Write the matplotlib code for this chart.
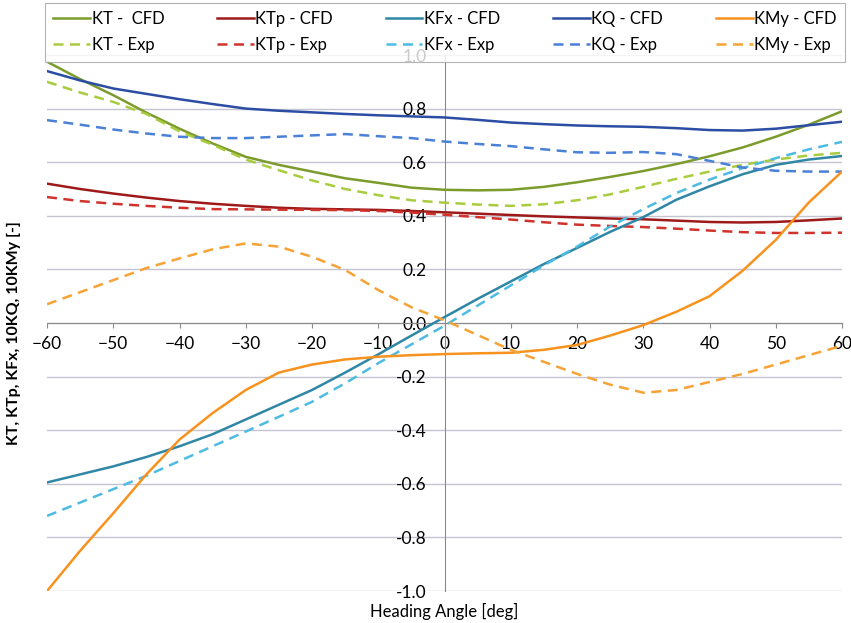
import matplotlib.pyplot as plt

plt.rcParams['font.family'] = ['Lato', 'DejaVu Sans']

angulos = [-60, -55, -50, -45, -40, -35, -30, -25, -20, -15, -10, -5, 0,
           5, 10, 15, 20, 25, 30, 35, 40, 45, 50, 55, 60]

kt_cfd = [0.975, 0.91, 0.85, 0.785, 0.725, 0.67, 0.62, 0.59, 0.565, 0.54, 0.523, 0.505, 0.497,
          0.495, 0.497, 0.508, 0.525, 0.545, 0.567, 0.593, 0.622, 0.655, 0.695, 0.74, 0.79]
kt_exp = [0.90, 0.86, 0.825, 0.78, 0.715, 0.665, 0.61, 0.57, 0.532, 0.50, 0.477, 0.458, 0.449,
          0.442, 0.437, 0.443, 0.458, 0.48, 0.508, 0.538, 0.565, 0.59, 0.61, 0.625, 0.635]
ktp_cfd = [0.52, 0.50, 0.483, 0.468, 0.455, 0.445, 0.437, 0.43, 0.426, 0.424, 0.422, 0.418, 0.413,
           0.408, 0.403, 0.398, 0.394, 0.39, 0.387, 0.382, 0.377, 0.375, 0.377, 0.383, 0.39]
ktp_exp = [0.47, 0.455, 0.445, 0.437, 0.43, 0.425, 0.424, 0.423, 0.422, 0.421, 0.418, 0.412, 0.404,
           0.395, 0.386, 0.376, 0.367, 0.362, 0.358, 0.352, 0.345, 0.339, 0.336, 0.336, 0.337]
kfx_cfd = [-0.595, -0.565, -0.535, -0.50, -0.46, -0.415, -0.36, -0.305, -0.25, -0.185, -0.117, -0.047, 0.022,
           0.09, 0.155, 0.22, 0.28, 0.34, 0.395, 0.46, 0.51, 0.555, 0.59, 0.61, 0.623]
kfx_exp = [-0.72, -0.67, -0.62, -0.57, -0.515, -0.46, -0.405, -0.35, -0.294, -0.225, -0.15, -0.08, -0.01,
           0.065, 0.14, 0.215, 0.285, 0.36, 0.425, 0.485, 0.535, 0.578, 0.615, 0.648, 0.676]
kq_cfd = [0.94, 0.905, 0.875, 0.855, 0.835, 0.817, 0.80, 0.792, 0.786, 0.78, 0.775, 0.771, 0.767,
          0.758, 0.748, 0.742, 0.737, 0.734, 0.732, 0.727, 0.72, 0.718, 0.725, 0.738, 0.751]
kq_exp = [0.757, 0.74, 0.722, 0.707, 0.695, 0.69, 0.69, 0.695, 0.70, 0.705, 0.697, 0.69, 0.677,
          0.668, 0.66, 0.648, 0.637, 0.635, 0.638, 0.63, 0.605, 0.58, 0.568, 0.565, 0.565]
kmy_cfd = [-1.0, -0.85, -0.71, -0.565, -0.435, -0.336, -0.25, -0.185, -0.155, -0.136, -0.126, -0.12, -0.116,
           -0.113, -0.111, -0.10, -0.082, -0.047, -0.008, 0.042, 0.10, 0.195, 0.31, 0.45, 0.565]
kmy_exp = [0.07, 0.115, 0.16, 0.205, 0.241, 0.275, 0.297, 0.285, 0.247, 0.198, 0.123, 0.059, 0.01,
           -0.045, -0.10, -0.145, -0.19, -0.23, -0.26, -0.25, -0.22, -0.19, -0.155, -0.12, -0.085]

series = [
    ("KT -  CFD", kt_cfd, '#7b9c2c', '-'),
    ("KT - Exp", kt_exp, '#a9cc3e', '--'),
    ("KTp - CFD", ktp_cfd, '#9e1a1a', '-'),
    ("KTp - Exp", ktp_exp, '#d0322c', '--'),
    ("KFx - CFD", kfx_cfd, '#2f87a5', '-'),
    ("KFx - Exp", kfx_exp, '#4dbbe2', '--'),
    ("KQ - CFD", kq_cfd, '#2b4da3', '-'),
    ("KQ - Exp", kq_exp, '#4a80d6', '--'),
    ("KMy - CFD", kmy_cfd, '#f7921e', '-'),
    ("KMy - Exp", kmy_exp, '#f6a235', '--'),
]

fig = plt.figure(figsize=(8.51, 6.23), dpi=100)
ax = fig.add_axes([47 / 851, 32 / 623, 795 / 851, 536 / 623])

for nombre, valores, color, estilo in series:
    linea, = ax.plot(angulos, valores, color=color, linestyle=estilo, linewidth=1.8, label=nombre)
    if estilo == '--':
        linea.set_dashes((4, 2.6))

ax.set_xlim(-60, 60)
ax.set_ylim(-1.0, 1.0)
ax.set_xticks(range(-60, 61, 10))
ax.set_yticks([i / 10 for i in range(-10, 11, 2)])
ax.set_yticklabels([f"{i / 10:.1f}" for i in range(-10, 11, 2)])

# ejes cruzando en el origen, como en Excel
ax.spines['left'].set_position(('data', 0))
ax.spines['bottom'].set_position(('data', 0))
ax.spines['top'].set_visible(False)
ax.spines['right'].set_visible(False)
ax.spines['left'].set_color('#8a8a8a')
ax.spines['bottom'].set_color('#8a8a8a')
ax.spines['left'].set_zorder(1)
ax.spines['bottom'].set_zorder(1)

ax.tick_params(axis='x', direction='out', length=3.5, width=0.8, color='#8a8a8a', pad=6, labelsize=12.5)
ax.tick_params(axis='y', length=0, pad=13, labelsize=12.5)
ax.grid(axis='y', color='#c4c4d2', linewidth=1.0)
ax.set_axisbelow(True)

fig.text(0.016, 0.466, "KT, KTp, KFx, 10KQ, 10KMy [-]", rotation=90, ha='center', va='center',
         fontsize=11.5, fontweight='bold')
fig.text(444 / 851, 1 - 611 / 623, "Heading Angle [deg]", ha='center', va='center', fontsize=12)

leg = fig.legend(loc='upper left', bbox_to_anchor=(45 / 851, 1 - 3 / 623, 800 / 851, 0), mode='expand',
                 ncol=5, fontsize=12, frameon=True, fancybox=False, handlelength=2.2,
                 handletextpad=0.1, borderaxespad=0, labelspacing=0.6, borderpad=0.5)
leg.get_frame().set_edgecolor('#a0a0a0')
leg.get_frame().set_linewidth(0.8)

plt.savefig('out.png', dpi=100)
